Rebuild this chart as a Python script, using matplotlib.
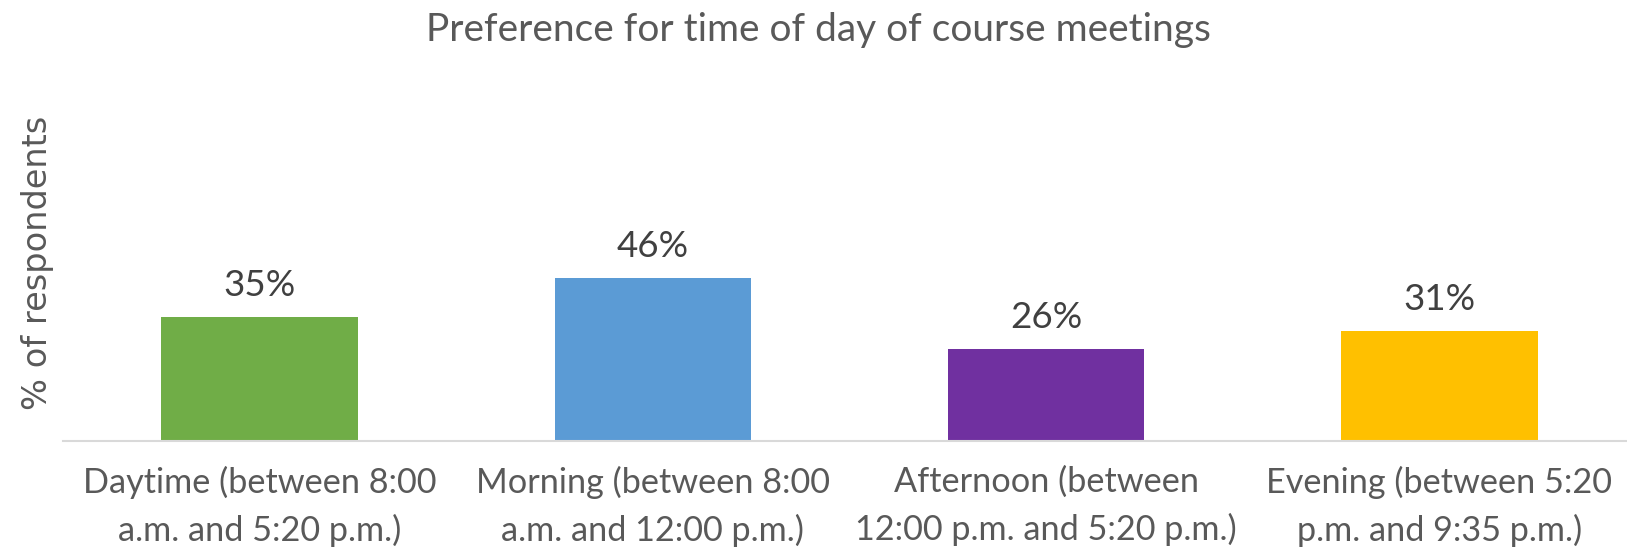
import matplotlib
matplotlib.use("Agg")
import matplotlib.pyplot as plt

# data
categories = ["Daytime (between 8:00\na.m. and 5:20 p.m.)",
              "Morning (between 8:00\na.m. and 12:00 p.m.)",
              "Afternoon (between\n12:00 p.m. and 5:20 p.m.)",
              "Evening (between 5:20\np.m. and 9:35 p.m.)"]
values = [35, 46, 26, 31]
bar_colors = ["#70AD47", "#5B9BD5", "#7030A0", "#FFC000"]

W, H = 1627, 552
fig = plt.figure(figsize=(W / 100, H / 100), dpi=100)
plt.rcParams['font.family'] = ['Lato', 'DejaVu Sans']

# plot area: baseline at y=441px, 50% at y=264px, left edge x=63px
ax = fig.add_axes([63 / W, (H - 441) / H, (W - 63) / W, 177 / H])
x = list(range(len(values)))
ax.bar(x, values, width=0.5, color=bar_colors)
ax.set_xlim(-0.5, 3.5 - 9 / 393)
ax.set_ylim(0, 50)

for xi, v in zip(x, values):
    ax.annotate(f"{v}%", (xi, v), xytext=(0, 11), textcoords="offset points",
                ha="center", va="bottom", fontsize=26.5, color="#404040",
                annotation_clip=False)

ax.set_xticks(x)
ax.set_xticklabels(categories, fontsize=24.7, color="#595959", linespacing=1.53)
ax.tick_params(axis="x", length=0, pad=18)
ax.set_yticks([])
for s in ["top", "right", "left"]:
    ax.spines[s].set_visible(False)
ax.spines["bottom"].set_color("#D9D9D9")
ax.spines["bottom"].set_linewidth(1.5)

fig.text(38 / W, 1 - 263 / H, "% of respondents", rotation=90, ha="center", va="center",
         fontsize=24.2, color="#595959", family="DejaVu Sans")
fig.text(818 / W, 1 - 30 / H, "Preference for time of day of course meetings",
         ha="center", va="center", fontsize=28, color="#595959")

fig.savefig("out.png", dpi=100)
